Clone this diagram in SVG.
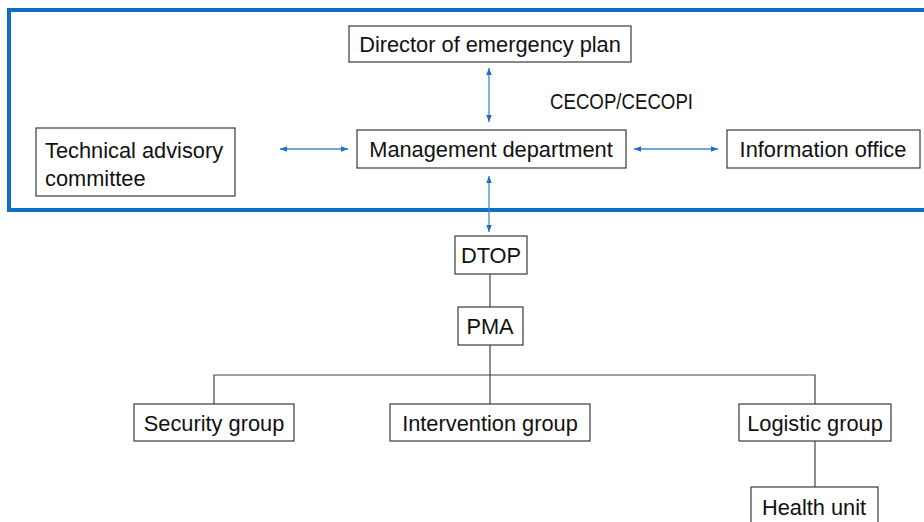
<svg xmlns="http://www.w3.org/2000/svg" width="924" height="522" viewBox="0 0 924 522">
<style>
.box{fill:#fff;stroke:#3a3a3a;stroke-width:1.2}
.t{font-family:"Liberation Sans",Arial,sans-serif;font-size:21.8px;fill:#111}
.c{text-anchor:middle}
.blue{stroke:#3d87d1;stroke-width:1.3;fill:none}
.blk{stroke:#444;stroke-width:1.2;fill:none}
</style>
<defs>
<marker id="ah" viewBox="0 0 10 10" refX="10" refY="5" markerWidth="7" markerHeight="7" orient="auto-start-reverse" markerUnits="userSpaceOnUse">
<path d="M0,1 L10,5 L0,9 z" fill="#1f6fc4"/>
</marker>
</defs>
<rect x="9" y="10" width="930" height="200" fill="none" stroke="#0b6fc4" stroke-width="4"/>
<g id="connectors">
<line class="blue" x1="489" y1="68" x2="489" y2="122" marker-start="url(#ah)" marker-end="url(#ah)"/>
<line class="blue" x1="280" y1="149" x2="348" y2="149" marker-start="url(#ah)" marker-end="url(#ah)"/>
<line class="blue" x1="634" y1="149" x2="718" y2="149" marker-start="url(#ah)" marker-end="url(#ah)"/>
<line class="blue" x1="489" y1="176" x2="489" y2="232" marker-start="url(#ah)" marker-end="url(#ah)"/>
<line class="blk" x1="490" y1="274" x2="490" y2="307"/>
<line class="blk" x1="490" y1="345" x2="490" y2="404"/>
<polyline class="blk" points="214,404 214,375 815,375 815,404"/>
<line class="blk" x1="815" y1="441" x2="815" y2="487"/>
</g>
<g id="director"><rect class="box" x="349" y="26" width="282" height="36"/><text class="t c" x="490" y="52">Director of emergency plan</text></g>
<g id="cecop"><text class="t" x="550" y="109" textLength="143" lengthAdjust="spacingAndGlyphs">CECOP/CECOPI</text></g>
<g id="management"><rect class="box" x="357" y="130" width="269" height="38"/><text class="t c" x="491" y="157">Management department</text></g>
<g id="technical"><rect class="box" x="36" y="128" width="199" height="68"/><text class="t" x="45" y="158">Technical advisory</text><text class="t" x="45" y="186">committee</text></g>
<g id="information"><rect class="box" x="727" y="130" width="193" height="38"/><text class="t c" x="823" y="157">Information office</text></g>
<g id="dtop"><rect class="box" x="455" y="236" width="72" height="38"/><text class="t c" x="491" y="263">DTOP</text></g>
<g id="pma"><rect class="box" x="458" y="307" width="65" height="38"/><text class="t c" x="490" y="334">PMA</text></g>
<g id="security"><rect class="box" x="134" y="404" width="160" height="37"/><text class="t c" x="214" y="431">Security group</text></g>
<g id="intervention"><rect class="box" x="390" y="404" width="200" height="37"/><text class="t c" x="490" y="431">Intervention group</text></g>
<g id="logistic"><rect class="box" x="739" y="404" width="152" height="37"/><text class="t c" x="815" y="431">Logistic group</text></g>
<g id="health"><rect class="box" x="751" y="487" width="127" height="40"/><text class="t c" x="814" y="515">Health unit</text></g>
</svg>
